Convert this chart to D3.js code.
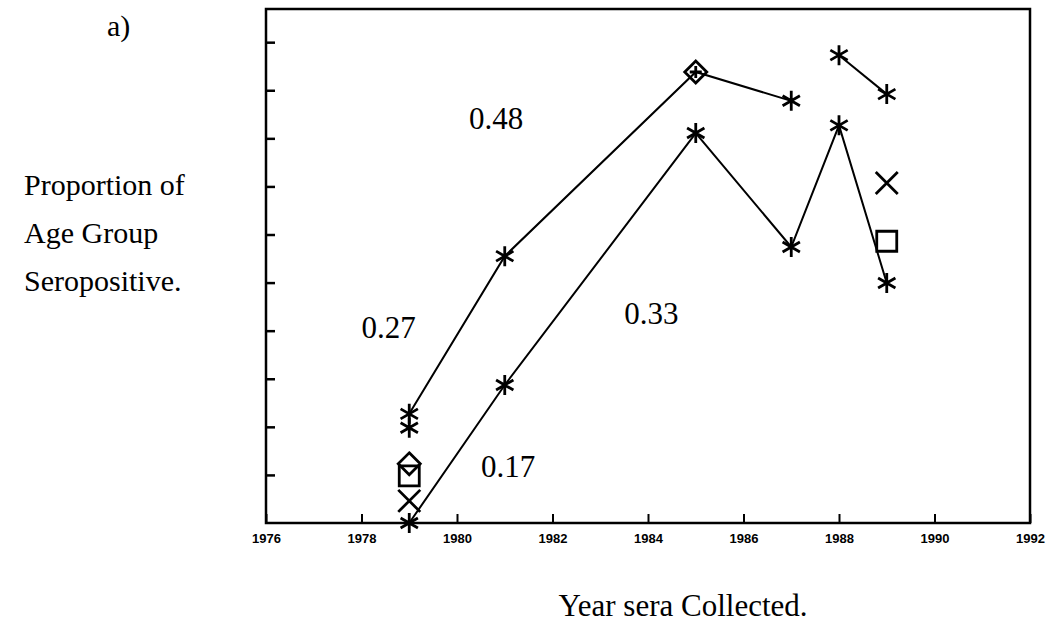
<!DOCTYPE html>
<html>
<head>
<meta charset="utf-8">
<script src="https://cdn.jsdelivr.net/npm/d3@7"></script>
<style>
  html, body { margin: 0; padding: 0; background: #fff; }
  svg { display: block; }
  .serif { font-family: "Liberation Serif", "Times New Roman", serif; fill: #000; }
  .tick-label { font-family: "Liberation Sans", Arial, sans-serif; font-weight: bold; font-size: 13px; fill: #000; }
</style>
</head>
<body>
<svg id="chart" width="1046" height="624"></svg>
<script>
// Years on the horizontal axis
const xTickYears = [1976, 1978, 1980, 1982, 1984, 1986, 1988, 1990, 1992];
const yTickValues = [0.1, 0.2, 0.3, 0.4, 0.5, 0.6, 0.7, 0.8, 0.9, 1.0];

// Upper connected series (1979-1987)
const upperYears  = [1979, 1981, 1985, 1987];
const upperValues = [0.227, 0.555, 0.938, 0.878];

// Short upper segment (1988-1989)
const lateYears  = [1988, 1989];
const lateValues = [0.973, 0.892];

// Lower connected series
const lowerYears  = [1979, 1981, 1985, 1987, 1988, 1989];
const lowerValues = [0.0, 0.287, 0.811, 0.574, 0.827, 0.499];

// Unconnected point markers
const extraYears  = [1979, 1979, 1979, 1979, 1989, 1989, 1985, 1985];
const extraValues = [0.198, 0.123, 0.098, 0.046, 0.707, 0.586, 0.938, 0.938];
const extraShapes = ["asterisk", "diamond", "square", "cross", "cross", "square", "diamond", "plus"];

// Text annotations inside the plot
const noteTexts  = ["0.48", "0.27", "0.33", "0.17"];
const noteYears  = [1980.25, 1978.0, 1983.5, 1980.5];
const noteValues = [0.819, 0.385, 0.413, 0.095];

const svg = d3.select("#chart");
const plot = { left: 266, right: 1030, top: 9, bottom: 523 };

const x = d3.scaleLinear().domain([1976, 1992]).range([plot.left, plot.right]);
const y = d3.scaleLinear().domain([0, 1.069]).range([plot.bottom, plot.top]);

// Frame
svg.append("rect")
  .attr("x", plot.left).attr("y", plot.top)
  .attr("width", plot.right - plot.left).attr("height", plot.bottom - plot.top)
  .attr("fill", "none").attr("stroke", "#000").attr("stroke-width", 2.5);

// Bottom axis: short inward ticks with small bold labels
const xAxis = d3.axisBottom(x).tickValues(xTickYears).tickSize(0).tickPadding(11).tickFormat(d3.format("d"));
const gx = svg.append("g").attr("transform", `translate(0,${plot.bottom})`).call(xAxis);
gx.select(".domain").remove();
gx.selectAll("text").attr("class", "tick-label").attr("font-size", null).attr("font-family", null);
gx.selectAll(".tick").append("line")
  .attr("y1", 0).attr("y2", -9).attr("stroke", "#000").attr("stroke-width", 2);

// Left axis: inward ticks, no labels
const yAxis = d3.axisLeft(y).tickValues(yTickValues).tickSize(0).tickFormat("");
const gy = svg.append("g").attr("transform", `translate(${plot.left},0)`).call(yAxis);
gy.select(".domain").remove();
gy.selectAll(".tick").append("line")
  .attr("x1", 0).attr("x2", 9).attr("stroke", "#000").attr("stroke-width", 2.5);

// Connecting lines
const line = d3.line().x(d => x(d[0])).y(d => y(d[1]));
[[upperYears, upperValues], [lateYears, lateValues], [lowerYears, lowerValues]].forEach(([yrs, vals]) => {
  svg.append("path")
    .datum(yrs.map((yr, i) => [yr, vals[i]]))
    .attr("d", line)
    .attr("fill", "none").attr("stroke", "#000").attr("stroke-width", 2);
});

// Marker shapes, centred on the origin
const R = 10;
const shapePaths = {
  asterisk: (() => {
    const a = Math.PI / 3, p = [];
    for (let k = 0; k < 3; k++) {
      const t = Math.PI / 2 + k * a;
      p.push(`M${R * Math.cos(t)},${-R * Math.sin(t)}L${-R * Math.cos(t)},${R * Math.sin(t)}`);
    }
    return p.join("");
  })(),
  diamond: `M0,${-11}L11,0L0,11L-11,0Z`,
  square: `M-10,-10H10V10H-10Z`,
  cross: `M-11,-11L11,11M11,-11L-11,11`,
  plus: `M0,-6V6M-6,0H6`
};

function drawMarkers(yrs, vals, shapes) {
  svg.append("g").selectAll("path")
    .data(yrs.map((yr, i) => ({ yr, v: vals[i], s: shapes[i] })))
    .join("path")
    .attr("transform", d => `translate(${x(d.yr)},${y(d.v)})`)
    .attr("d", d => shapePaths[d.s])
    .attr("fill", "none").attr("stroke", "#000").attr("stroke-width", 2.8)
    .attr("stroke-linecap", "butt");
}

// Asterisks on the connected series (the 1985 upper point is shown as diamond + plus)
const upperStarYears = upperYears.filter(yr => yr !== 1985);
const upperStarValues = upperValues.filter((v, i) => upperYears[i] !== 1985);
drawMarkers(upperStarYears, upperStarValues, upperStarYears.map(() => "asterisk"));
drawMarkers(lateYears, lateValues, lateYears.map(() => "asterisk"));
drawMarkers(lowerYears, lowerValues, lowerYears.map(() => "asterisk"));
drawMarkers(extraYears, extraValues, extraShapes);

// Annotations
svg.append("g").selectAll("text")
  .data(noteTexts.map((t, i) => ({ t, yr: noteYears[i], v: noteValues[i] })))
  .join("text")
  .attr("class", "serif")
  .attr("font-size", 31)
  .attr("x", d => x(d.yr)).attr("y", d => y(d.v))
  .text(d => d.t);

// Panel tag and axis titles
svg.append("text").attr("class", "serif").attr("font-size", 30)
  .attr("x", 107).attr("y", 36).text("a)");

const yTitle = ["Proportion of", "Age Group", "Seropositive."];
svg.append("g").selectAll("text")
  .data(yTitle)
  .join("text")
  .attr("class", "serif").attr("font-size", 30)
  .attr("x", 24).attr("y", (d, i) => 195 + i * 48)
  .text(d => d);

svg.append("text").attr("class", "serif").attr("font-size", 31)
  .attr("x", 683).attr("y", 616).attr("text-anchor", "middle")
  .text("Year sera Collected.");
</script>
</body>
</html>
